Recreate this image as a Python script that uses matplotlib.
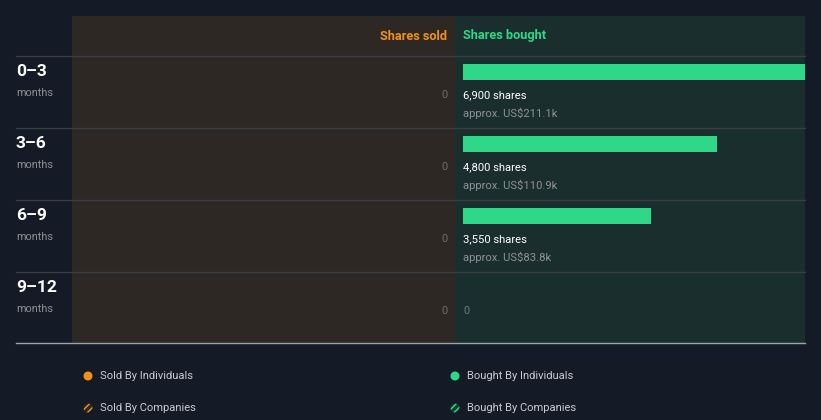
import matplotlib
matplotlib.use("Agg")
import matplotlib.pyplot as plt
from matplotlib.patches import Rectangle, Circle

plt.rcParams["font.family"] = ["Roboto", "DejaVu Sans"]

# data
periods = ["0\u20133", "3\u20136", "6\u20139", "9\u201312"]
sold_shares = [0, 0, 0, 0]
bought_shares = [6900, 4800, 3550, 0]
bought_value = ["US$211.1k", "US$110.9k", "US$83.8k", None]
legend_labels = ["Sold By Individuals", "Sold By Companies",
                 "Bought By Individuals", "Bought By Companies"]

BG = "#151b26"
SOLD_BG = "#2d2823"
BOUGHT_BG = "#1a2e2e"
ORANGE = "#f2901e"
GREEN = "#2ed888"
WHITE = "#ffffff"
GREY = "#8e9196"
LINE = "#3b3f44"

W, H = 821, 420
fig = plt.figure(figsize=(W / 100, H / 100), dpi=100)
fig.patch.set_facecolor(BG)

# full-figure axes in pixel coordinates for layout and text
ax = fig.add_axes([0, 0, 1, 1])
ax.set_xlim(0, W)
ax.set_ylim(H, 0)
ax.axis("off")

top, bottom = 16, 343
mid = 455
ax.add_patch(Rectangle((72, top), mid - 72, bottom - top, color=SOLD_BG, lw=0, zorder=0))
ax.add_patch(Rectangle((mid, top), 805 - mid, bottom - top, color=BOUGHT_BG, lw=0, zorder=0))

ax.text(447, 36, "Shares sold", color=ORANGE, fontsize=9.2, fontweight="bold",
        ha="right", va="center")
ax.text(463, 36, "Shares bought", color=GREEN, fontsize=9.2, fontweight="bold",
        ha="left", va="center")

row_h = 72
for i, p in enumerate(periods):
    y0 = 56 + row_h * i
    ax.plot([16, 805], [y0, y0], color=LINE, lw=0.9, zorder=1)
    ax.text(16, y0 + 15.5, p, color=WHITE, fontsize=12.5, fontweight="bold",
            ha="left", va="center")
    ax.text(16, y0 + 37, "months", color=GREY, fontsize=7.8, ha="left", va="center")
    ax.text(447, y0 + 39, f"{sold_shares[i]:,}", color="#6f6f6f", fontsize=7.8,
            ha="right", va="center")
    if bought_shares[i] > 0:
        ax.text(463, y0 + 39, f"{bought_shares[i]:,} shares", color=WHITE,
                fontsize=8.1, ha="left", va="center")
        ax.text(463, y0 + 57, f"approx. {bought_value[i]}", color=GREY,
                fontsize=8.1, ha="left", va="center")
    else:
        ax.text(463, y0 + 39, "0", color="#6b7b7b", fontsize=7.8,
                ha="left", va="center")

ax.plot([16, 805], [bottom, bottom], color="#9aa7a7", lw=1.0, zorder=3)

# bought bars
scale = 254 / 4800  # pixels per share
bx = fig.add_axes([mid / W, (H - bottom) / H, (805 - mid) / W, (bottom - top) / H])
bx.set_xlim(-(463 - mid) / scale, (805 - 463) / scale)
bx.set_ylim(bottom, top)
bx.axis("off")
bx.patch.set_alpha(0)
bar_y = [56 + row_h * i + 16 for i in range(len(periods))]
bx.barh(bar_y, bought_shares, height=16, left=0, color=GREEN, lw=0)

# legend
leg_pos = [(88, 376), (88, 408), (455, 376), (455, 408)]
leg_col = [ORANGE, ORANGE, GREEN, GREEN]
for (x, y), lab, c, hatched in zip(leg_pos, legend_labels, leg_col,
                                   [False, True, False, True]):
    if hatched:
        ax.add_patch(Circle((x, y), 4.5, facecolor="#2a2a22" if c == ORANGE else "#1d3a30",
                            edgecolor=c, hatch="/////", lw=0))
    else:
        ax.add_patch(Circle((x, y), 4.5, color=c, lw=0))
    ax.text(x + 12, y, lab, color="#c8ccd2", fontsize=8.0, ha="left", va="center")

fig.savefig("out.png", dpi=100, facecolor=BG)
